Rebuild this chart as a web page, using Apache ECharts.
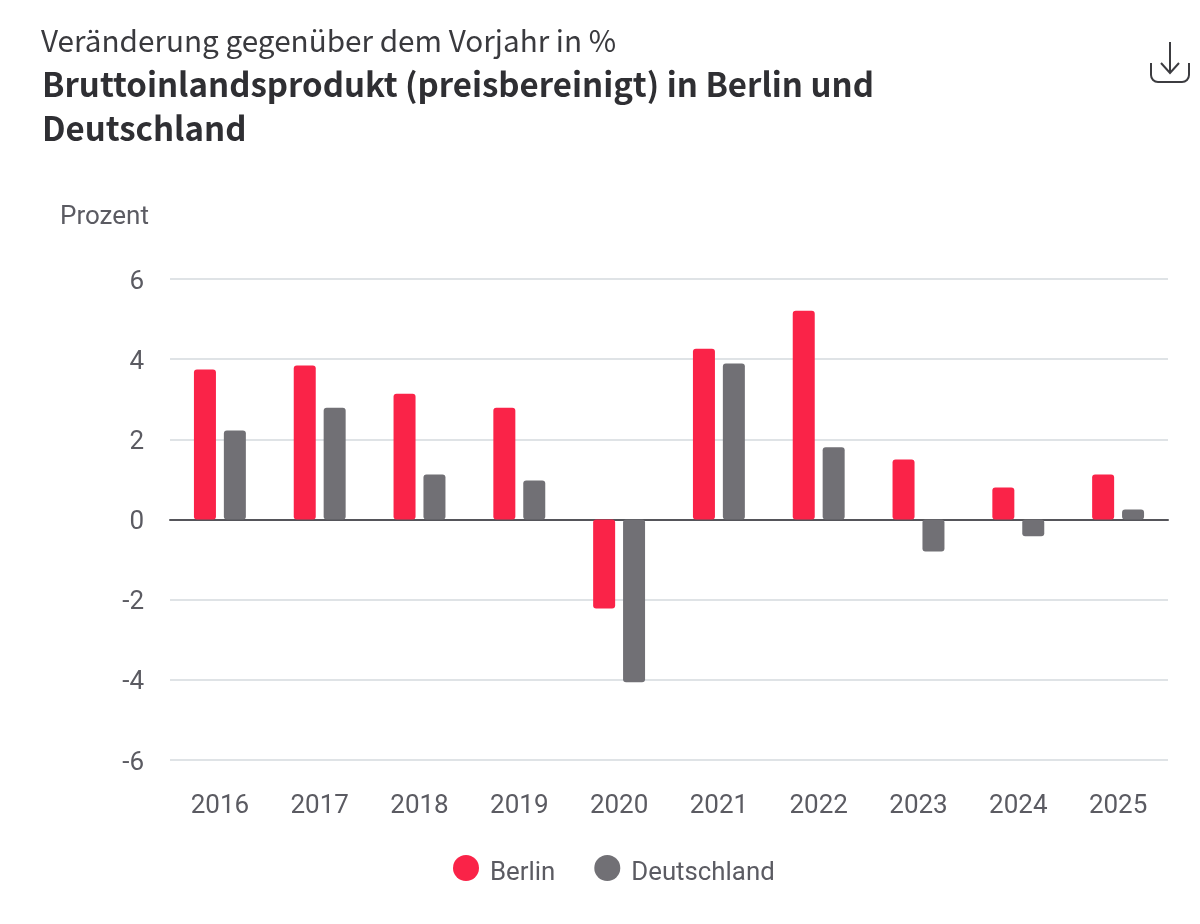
<!DOCTYPE html>
<html><head><meta charset="utf-8">
<style>html,body{margin:0;padding:0;background:#fff}#c{width:1200px;height:924px}</style>
<script src="https://cdn.jsdelivr.net/npm/echarts@6/dist/echarts.min.js"></script></head>
<body><div id="c"></div>
<script>
const years=['2016','2017','2018','2019','2020','2021','2022','2023','2024','2025'];
const berlin=[3.74,3.84,3.14,2.79,-2.22,4.26,5.21,1.5,0.8,1.12];
const deutschland=[2.22,2.79,1.12,0.97,-4.06,3.89,1.8,-0.8,-0.42,0.25];
const chart=echarts.init(document.getElementById('c'),null,{renderer:'canvas'});
const font='Roboto';
const titleFont='"Noto Sans CJK SC"';
const iconStroke={fill:'none',stroke:'#3c3c40',lineWidth:2};
chart.setOption({
 animation:false,
 backgroundColor:'#fff',
 title:[
  {text:'Veränderung gegenüber dem Vorjahr in %',left:41,top:19,padding:0,textStyle:{fontFamily:titleFont,fontSize:29.7,fontWeight:'normal',color:'#3a3a3e',lineHeight:44}},
  {text:'Bruttoinlandsprodukt (preisbereinigt) in Berlin und\nDeutschland',left:42,top:62,padding:0,textStyle:{fontFamily:titleFont,fontSize:33,fontWeight:'bold',color:'#2f2f33',lineHeight:44}}
 ],
 graphic:[
  {type:'text',x:60,y:204,style:{text:'Prozent',fontFamily:'Roboto',fontSize:26,fill:'#5b5b62'}},
  {type:'polyline',shape:{points:[[1151,63],[1151,75]]},style:iconStroke},
  {type:'arc',shape:{cx:1158,cy:75,r:7,startAngle:Math.PI/2,endAngle:Math.PI,clockwise:true},style:iconStroke},
  {type:'polyline',shape:{points:[[1158,82],[1182,82]]},style:iconStroke},
  {type:'arc',shape:{cx:1182,cy:75,r:7,startAngle:0,endAngle:Math.PI/2,clockwise:true},style:iconStroke},
  {type:'polyline',shape:{points:[[1189,75],[1189,63]]},style:iconStroke},
  {type:'line',shape:{x1:1170,y1:42,x2:1170,y2:73},style:iconStroke},
  {type:'polyline',shape:{points:[[1161,63],[1170,73],[1179,63]]},style:iconStroke}
 ],
 legend:{top:855,left:453,itemWidth:26,itemHeight:26,itemGap:39,icon:'circle',padding:0,
  formatter:'{a|{name}}',
  textStyle:{fontFamily:font,fontSize:25.8,color:'#5b5b62',
   rich:{a:{fontFamily:font,fontSize:25.8,color:'#5b5b62',padding:[11,0,0,6]}}}},
 grid:{left:170,right:32,top:279,bottom:164},
 xAxis:{type:'category',data:years,
  axisLine:{onZero:true,lineStyle:{color:'#55555a',width:2}},axisTick:{show:false},
  axisLabel:{margin:33,fontFamily:font,fontSize:26,color:'#5b5b62'},position:'bottom'},
 yAxis:{type:'value',min:-6,max:6,interval:2,
  axisLine:{show:false},axisTick:{show:false},
  axisLabel:{fontFamily:font,fontSize:26,color:'#5b5b62',margin:26,verticalAlign:'top',lineHeight:6},
  splitLine:{lineStyle:{color:'#dfe3e6',width:2}}},
 series:[
  {name:'Berlin',type:'bar',data:berlin,barWidth:22,barGap:'36%',itemStyle:{color:'#fa2348',borderRadius:3}},
  {name:'Deutschland',type:'bar',data:deutschland,barWidth:22,barGap:'36%',itemStyle:{color:'#717075',borderRadius:3}}
 ]
});
</script></body></html>
